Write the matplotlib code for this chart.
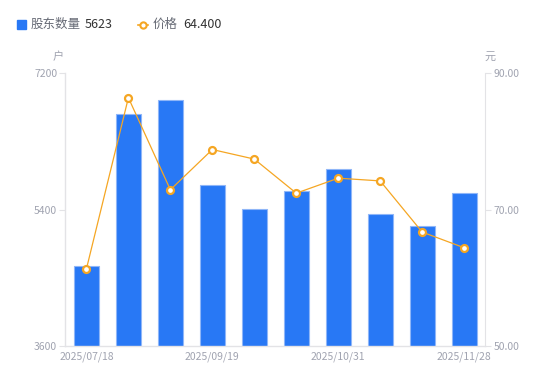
import matplotlib
matplotlib.use('Agg')
import matplotlib.pyplot as plt
from matplotlib.lines import Line2D
from matplotlib.patches import Rectangle

plt.rcParams['font.family'] = ['Noto Sans CJK SC', 'DejaVu Sans']

dates = ['2025/07/18', '', '', '2025/09/19', '', '', '2025/10/31', '', '', '2025/11/28']
holders = [4660, 6660, 6850, 5725, 5405, 5646, 5933, 5341, 5182, 5623]
prices = [61.3, 86.4, 72.9, 78.8, 77.4, 72.4, 74.6, 74.2, 66.7, 64.4]

blue = '#2878f5'
orange = '#f5a623'
gray = '#a0a3b0'
axis_gray = '#e3e3e6'

fig = plt.figure(figsize=(5.5, 3.81), dpi=100)
ax = fig.add_axes([0.119, 0.092, 0.763, 0.716])
x = list(range(len(holders)))
ax.bar(x, holders, width=0.6, color=blue, edgecolor='#8fb6f8', linewidth=0.8)
ax.set_xlim(-0.5, len(holders) - 0.5)
ax.set_ylim(3600, 7200)
ax.set_yticks([3600, 5400, 7200])
ax.set_xticks(x)
ax.set_xticklabels(dates)
ax.tick_params(axis='x', length=0, colors=gray, labelsize=7.5, pad=4)
ax.tick_params(axis='y', length=4, width=0.8, color=axis_gray, labelcolor=gray, labelsize=7.5, pad=2)
for s in ['top', 'right']:
    ax.spines[s].set_visible(False)
for s in ['left', 'bottom']:
    ax.spines[s].set_color(axis_gray)
    ax.spines[s].set_linewidth(1)

ax2 = ax.twinx()
ax2.plot(x, prices, color=orange, linewidth=0.9, marker='o', markersize=5,
         markerfacecolor='white', markeredgecolor=orange, markeredgewidth=1.6)
ax2.set_ylim(50, 90)
ax2.set_yticks([50, 70, 90])
ax2.set_yticklabels(['50.00', '70.00', '90.00'])
ax2.tick_params(axis='y', length=4, width=0.8, color=axis_gray, labelcolor=gray, labelsize=7.5, pad=2)
for s in ['top', 'left', 'bottom']:
    ax2.spines[s].set_visible(False)
ax2.spines['right'].set_color(axis_gray)

fig.text(58 / 550, 1 - 57 / 381, '户', color=gray, fontsize=8, ha='center', va='center')
fig.text(490 / 550, 1 - 57 / 381, '元', color=gray, fontsize=8, ha='center', va='center')

# legend
ly = 1 - 24.5 / 381
fig.patches.append(Rectangle((17 / 550, 1 - 29 / 381), 8.5 / 550, 8.5 / 381,
                             transform=fig.transFigure, color=blue))
fig.text(31 / 550, ly, '股东数量', color='#666a75', fontsize=9, va='center')
fig.text(85 / 550, ly, '%d' % holders[-1], color='#333333', fontsize=9, va='center')
fig.lines.append(Line2D([138 / 550, 148 / 550], [ly, ly], transform=fig.transFigure,
                        color=orange, linewidth=1.2, marker='o', markevery=[0],
                        markersize=0))
fig.lines.append(Line2D([143 / 550], [ly], transform=fig.transFigure, color=orange,
                        marker='o', markersize=4.5, markerfacecolor='white',
                        markeredgecolor=orange, markeredgewidth=1.5))
fig.text(153 / 550, ly, '价格', color='#666a75', fontsize=9, va='center')
fig.text(183 / 550, ly, '%.3f' % prices[-1], color='#333333', fontsize=9, va='center')

fig.savefig('out.png', dpi=100)
